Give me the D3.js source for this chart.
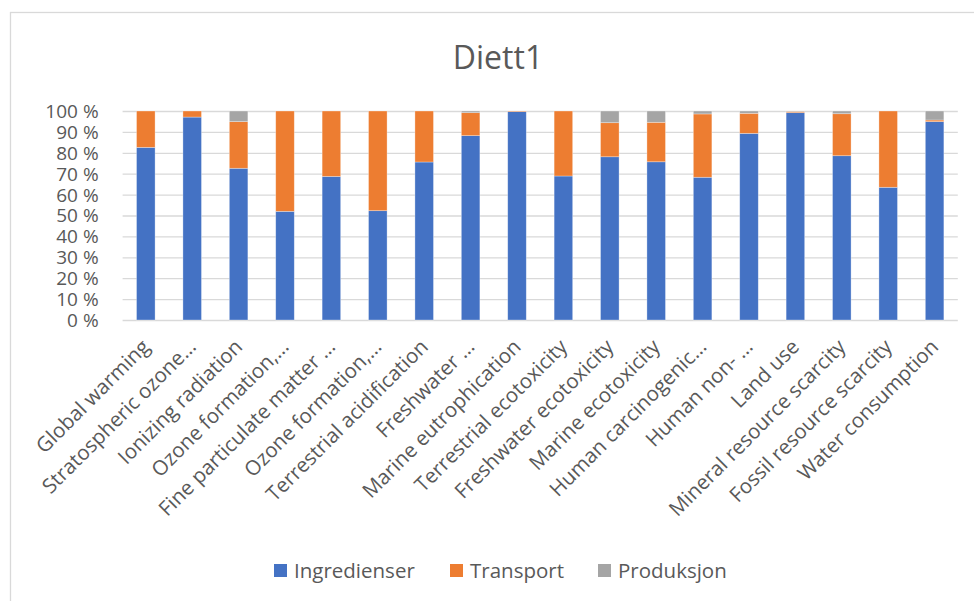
<!DOCTYPE html>
<html>
<head>
<meta charset="utf-8">
<script src="https://cdn.jsdelivr.net/npm/d3@7"></script>
<style>
  html, body { margin: 0; padding: 0; background: #fff; }
  svg { display: block; font-family: "Open Sans", "Noto Sans", sans-serif; }
</style>
</head>
<body>
<svg id="chart" width="974" height="601"></svg>
<script>
// Impact categories (labels as they appear, shortened where long)
const categories = [
  "Global warming",
  "Stratospheric ozone…",
  "Ionizing radiation",
  "Ozone formation,…",
  "Fine particulate matter …",
  "Ozone formation,…",
  "Terrestrial acidification",
  "Freshwater …",
  "Marine eutrophication",
  "Terrestrial ecotoxicity",
  "Freshwater ecotoxicity",
  "Marine ecotoxicity",
  "Human carcinogenic…",
  "Human non- …",
  "Land use",
  "Mineral resource scarcity",
  "Fossil resource scarcity",
  "Water consumption"
];

// Share of each contribution (percent)
const ingredienser = [82.6, 97.1, 72.6, 52.0, 68.7, 52.3, 75.6, 88.2, 99.7, 68.9, 78.1, 75.7, 68.3, 89.3, 99.2, 78.6, 63.5, 94.9];
const transport    = [17.4,  2.9, 22.3, 48.0, 31.3, 47.7, 24.4, 11.0,  0.3, 31.1, 16.3, 18.9, 30.3,  9.6,  0.6, 20.1, 36.5,  0.8];
const produksjon   = [ 0.0,  0.0,  5.1,  0.0,  0.0,  0.0,  0.0,  0.8,  0.0,  0.0,  5.6,  5.4,  1.4,  1.1,  0.2,  1.3,  0.0,  4.3];

const seriesNames = ["Ingredienser", "Transport", "Produksjon"];
const seriesColors = ["#4472C4", "#ED7D31", "#A5A5A5"];
const yTicks = [0, 10, 20, 30, 40, 50, 60, 70, 80, 90, 100];
const title = "Diett1";

const svg = d3.select("#chart");
const W = 974, H = 601;
const plot = { left: 122.6, right: 957.8, top: 111, bottom: 320 };
const textColor = "#595959";
const fontFamily = '"Open Sans", "Noto Sans", sans-serif';

// chart area frame
svg.append("rect")
  .attr("x", 10.5).attr("y", 12.5)
  .attr("width", W + 20).attr("height", H + 20)
  .attr("fill", "#fff").attr("stroke", "#d9d9d9").attr("stroke-width", 1.3);

const rows = categories.map((c, i) => ({
  key: i,
  Ingredienser: ingredienser[i],
  Transport: transport[i],
  Produksjon: produksjon[i]
}));

const x = d3.scaleBand()
  .domain(d3.range(categories.length))
  .range([plot.left, plot.right])
  .paddingInner(0.6)
  .paddingOuter(0.3);

const y = d3.scaleLinear().domain([0, 100]).range([plot.bottom, plot.top]);

// gridlines and percentage labels
const yAxis = d3.axisLeft(y)
  .tickValues(yTicks)
  .tickSize(-(plot.right - plot.left))
  .tickPadding(24)
  .tickFormat(d => d + " %");

const gy = svg.append("g")
  .attr("transform", `translate(${plot.left},0)`)
  .call(yAxis)
  .attr("font-family", fontFamily)
  .attr("font-size", 19);
gy.select(".domain").remove();
gy.selectAll(".tick line").attr("stroke", "#d9d9d9").attr("stroke-width", 1.3);
gy.selectAll(".tick text")
  .attr("fill", textColor)
  .attr("dy", "0.34em");

// stacked bars
const stack = d3.stack().keys(seriesNames);
const layers = stack(rows);

svg.append("g").selectAll("g")
  .data(layers)
  .join("g")
  .attr("fill", (d, i) => seriesColors[i])
  .selectAll("rect")
  .data(d => d)
  .join("rect")
  .attr("x", d => x(d.data.key))
  .attr("width", x.bandwidth())
  .attr("y", d => y(d[1]))
  .attr("height", d => Math.max(0, y(d[0]) - y(d[1])))
  .attr("stroke", "#ffffff")
  .attr("stroke-opacity", 0.45)
  .attr("stroke-width", 0.7);

// category labels, rotated
const xAxis = d3.axisBottom(x)
  .tickSize(0)
  .tickPadding(0)
  .tickFormat(i => categories[i]);

const gx = svg.append("g")
  .attr("transform", `translate(0,${plot.bottom})`)
  .call(xAxis)
  .attr("font-family", fontFamily)
  .attr("font-size", 20.5);
gx.select(".domain").remove();
gx.selectAll(".tick text")
  .attr("fill", textColor)
  .attr("text-anchor", "end")
  .attr("transform", "translate(0,23) rotate(-45)")
  .attr("dy", "0.35em");

// title
svg.append("text")
  .attr("x", 498)
  .attr("y", 69)
  .attr("text-anchor", "middle")
  .attr("fill", textColor)
  .attr("font-family", fontFamily)
  .attr("font-size", 32)
  .text(title);

// legend
const legendX = [274, 450, 598];
const legend = svg.append("g").attr("font-family", fontFamily).attr("font-size", 20.5);
seriesNames.forEach((name, i) => {
  legend.append("rect")
    .attr("x", legendX[i]).attr("y", 564)
    .attr("width", 13).attr("height", 13)
    .attr("fill", seriesColors[i]);
  legend.append("text")
    .attr("x", legendX[i] + 20).attr("y", 578)
    .attr("fill", textColor)
    .text(name);
});
</script>
</body>
</html>
